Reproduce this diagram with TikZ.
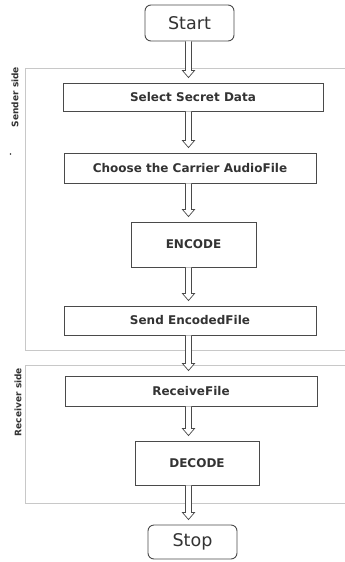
\documentclass[tikz,border=0pt]{standalone}
\usepackage{fontspec}
\setmainfont{DejaVu Sans}
\usetikzlibrary{calc}

\definecolor{boxgray}{HTML}{4A4A4A}
\definecolor{textgray}{HTML}{333333}
\definecolor{zonegray}{HTML}{C8C8C8}

% hollow block arrow from the bottom of #1 to just above the top of #2,
% running along the x position of the coordinate (axis)
\newcommand\blockarrow[2]{%
  \draw[flowline]
    ($(#1.south -| axis)+(-3,0)$) --
    ($(#2.north -| axis)+(-3,-12)$) --
    ($(#2.north -| axis)+(-6,-12)$) --
    ($(#2.north -| axis)+(0,-5)$) --
    ($(#2.north -| axis)+(6,-12)$) --
    ($(#2.north -| axis)+(3,-12)$) --
    ($(#1.south -| axis)+(3,0)$);}

\begin{document}
\begin{tikzpicture}[x=1pt, y=-1pt,
  stepbox/.style={draw=boxgray, line width=0.9pt, fill=white, text=textgray,
    inner sep=0pt, font=\bfseries\fontsize{12}{14}\selectfont},
  terminal/.style={draw=boxgray, line width=0.9pt, rounded corners=6pt, fill=white,
    text=textgray, inner sep=0pt, minimum width=89pt,
    font=\fontsize{17.5}{20}\selectfont},
  zone/.style={draw=zonegray, line width=0.8pt},
  zonelabel/.style={rotate=90, text=textgray, font=\bfseries\fontsize{9}{11}\selectfont},
  flowline/.style={draw=boxgray, line width=0.7pt, fill=white, line join=miter}
]
\useasboundingbox (0,0) rectangle (345,562);

% swim-lane frames (open on the right)
\draw[zone] (345,68) -- (25,68) -- (25,350) -- (345,350);
\draw[zone] (345,365) -- (25,365) -- (25,503) -- (345,503);
\node[zonelabel] (lsend) at (15,97) {Sender side};
\node[zonelabel] (lrecv) at (18,402) {Receiver side};
\fill[textgray] (10.5,154) circle (0.8pt);

% process steps
\node[terminal, minimum height=36pt] (start) at (189.5,23) {Start};
\node[stepbox, minimum width=260pt, minimum height=28pt] (sel) at (193,97) {Select Secret Data};
\node[stepbox, minimum width=252pt, minimum height=30pt] (carrier) at (190,168) {Choose the Carrier AudioFile};
\node[stepbox, minimum width=125pt, minimum height=45pt] (enc) at (193.5,244.5) {ENCODE};
\node[stepbox, minimum width=252pt, minimum height=29pt] (send) at (190,320.5) {Send EncodedFile};
\node[stepbox, minimum width=252pt, minimum height=30pt] (recv) at (191,391) {ReceiveFile};
\node[stepbox, minimum width=124pt, minimum height=44pt] (dec) at (197,463) {DECODE};
\node[terminal, minimum height=34pt] (stop) at (192.5,542) {Stop};

% hollow flow arrows along a common vertical axis
\coordinate (axis) at (188.5,0);
\blockarrow{start}{sel}
\blockarrow{sel}{carrier}
\blockarrow{carrier}{enc}
\blockarrow{enc}{send}
\blockarrow{send}{recv}
\blockarrow{recv}{dec}
\blockarrow{dec}{stop}
\end{tikzpicture}
\end{document}
